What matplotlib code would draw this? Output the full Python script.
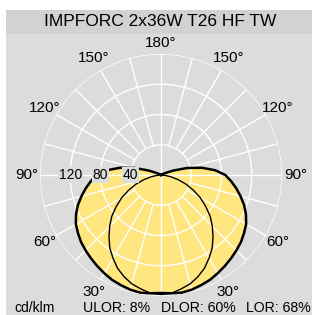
import numpy as np
import matplotlib.pyplot as plt
from matplotlib.patches import Rectangle

plt.rcParams['font.family'] = ['Liberation Sans', 'DejaVu Sans']

title = "IMPFORC 2x36W T26 HF TW"
unit = "cd/klm"
ratios = ["ULOR: 8%", "DLOR: 60%", "LOR: 68%"]

# gamma angles (deg from nadir) and intensities in cd/klm
gamma = np.arange(0, 185, 5)
c0 = [156, 157, 158, 157, 155, 153, 150, 147, 144, 141, 138, 134, 130, 124,
      117, 109, 101, 93, 85, 72, 55, 36, 17, 6, 2, 0, 0, 0, 0, 0, 0, 0, 0,
      0, 0, 0, 0]
c90 = [158, 157, 153, 149, 143, 136, 127, 118, 107, 96, 85, 72, 60, 47, 35,
       23, 13, 5, 0, 0, 0, 0, 0, 0, 0, 0, 0, 0, 0, 0, 0, 0, 0, 0, 0, 0, 0]

rings = [40, 80, 120, 160]
ring_labels = ["40", "80", "120"]
angle_labels = [180, 150, 120, 90, 60, 30]

W, H = 312, 315
bg = '#dcdcdc'
band = '#d2d2d2'
yellow = '#ffe67f'

fig = plt.figure(figsize=(W / 100, H / 100), dpi=100, facecolor='white')
fig.patches.append(Rectangle((6 / W, 0), 1, 305 / H, transform=fig.transFigure,
                             facecolor=bg, edgecolor='none', zorder=-2))
fig.patches.append(Rectangle((6 / W, (H - 34) / H), 1, 24 / H,
                             transform=fig.transFigure, facecolor=band,
                             edgecolor='none', zorder=-1))

cx, cy, R = 161, 175, 121
ax = fig.add_axes([(cx - R) / W, (H - cy - R) / H, 2 * R / W, 2 * R / H],
                  projection='polar')
ax.set_theta_zero_location('S')
ax.set_theta_direction(1)
ax.set_ylim(0, 160)
ax.patch.set_visible(False)
ax.spines['polar'].set_visible(False)
ax.grid(False)
ax.set_xticks([])
ax.set_yticks([])

g = np.radians(gamma)
th = np.concatenate([-g[::-1], g[1:]])
r0 = np.concatenate([np.array(c0)[::-1], np.array(c0)[1:]])
r90 = np.concatenate([np.array(c90)[::-1], np.array(c90)[1:]])

ax.fill(th, r0, color=yellow, zorder=1, lw=0)

# grid
full = np.linspace(0, 2 * np.pi, 361)
for r in rings:
    ax.plot(full, np.full_like(full, r), color='white', lw=1, zorder=2)
for a in range(0, 360, 15):
    r_start = 0 if a % 90 == 0 else 40
    ax.plot([np.radians(a)] * 2, [r_start, 160], color='white', lw=1, zorder=2)

ax.plot(th, r0, color='black', lw=1.8, zorder=3)
ax.plot(th, r90, color='black', lw=1.0, zorder=3)

for r, lab in zip(rings, ring_labels):
    ax.text(np.radians(270), r, lab, ha='center', va='center', fontsize=10,
            zorder=5, bbox=dict(facecolor=bg, edgecolor='none', pad=0.6))

for a in angle_labels:
    for s in ([1] if a == 180 else [-1, 1]):
        ax.text(np.radians(s * a), 175 if a == 180 else 178, f"{a}°",
                ha='center', va='center', fontsize=11, clip_on=False)

fig.text(160 / W, (H - 22) / H, title, ha='center', va='center', fontsize=12.5)
fig.text(14 / W, 3 / H, unit, ha='left', va='baseline', fontsize=10)
for x, t in zip([83, 161, 246], ratios):
    fig.text(x / W, 3 / H, t, ha='left', va='baseline', fontsize=10.2)

fig.savefig('out.png', dpi=100, facecolor=fig.get_facecolor())
